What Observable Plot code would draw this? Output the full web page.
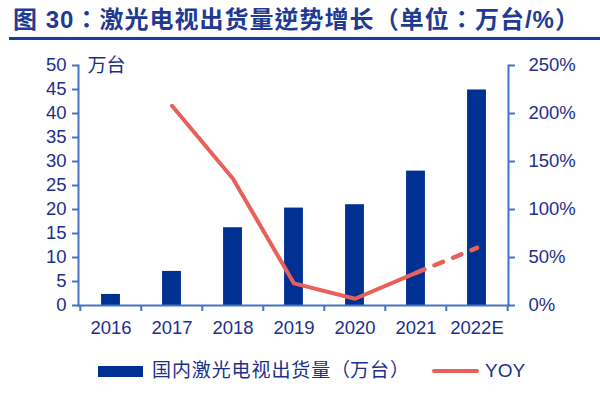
<!DOCTYPE html>
<html>
<head>
<meta charset="utf-8">
<script src="https://cdn.jsdelivr.net/npm/d3@7"></script>
<script src="https://cdn.jsdelivr.net/npm/@observablehq/plot@0.6"></script>
<style>
  body { margin: 0; background: #fff; width: 600px; height: 400px; overflow: hidden; text-spacing-trim: space-all; }
  #title { position: relative; height: 37px; margin-left: 9px; border-bottom: 3px solid #1a3d9c;
    font-family: "Liberation Sans", "Noto Sans CJK TC", sans-serif; font-weight: bold; font-size: 24px;
    color: #1f3a93; line-height: 40px; padding-left: 4px; white-space: nowrap; letter-spacing: 1px; }
  #legend { position: relative; height: 40px; font-family: "Liberation Sans", "Noto Sans CJK SC", sans-serif;
    font-size: 19px; color: #1b2f8a; }
  .sw { position: absolute; }
  .lt { position: absolute; line-height: 20px; white-space: nowrap; }
  .cn { letter-spacing: 0.9px; }
  .p { display: inline-block; width: 1em; text-align: center; }
  #title .p { width: 1.05em; }
</style>
</head>
<body>
<div id="title">图 30<span class="p">：</span>激光电视出货量逆势增长<span class="p">（</span>单位<span class="p">：</span>万台/%<span class="p">）</span></div>
<div id="chart"></div>
<div id="legend">
  <div class="sw" style="left:98px; top:21px; width:45px; height:11px; background:#003092;"></div>
  <div class="lt cn" style="left:152px; top:16px;">国内激光电视出货量<span class="p">（</span>万台<span class="p">）</span></div>
  <div class="sw" style="left:432px; top:24px; width:47px; height:4px; background:#e8605a; border-radius:2px;"></div>
  <div class="lt" style="left:485px; top:16px;">YOY</div>
</div>
<script>
const years = ["2016", "2017", "2018", "2019", "2020", "2021", "2022E"];
const shipments = [2.3, 7.1, 16.2, 20.3, 21.0, 28.0, 44.9];
const yoy = [null, 208, 132, 23, 7, 34, 60];
const solidYears = ["2017", "2018", "2019", "2020", "2021"];
const dashedYears = ["2021", "2022E"];
const leftTicks = [0, 5, 10, 15, 20, 25, 30, 35, 40, 45, 50];
const rightTicks = [0, 50, 100, 150, 200, 250];
const shipMax = 50;
const yoyMax = 250;

const ratio = shipMax / yoyMax;
const data = years.map((y, i) => ({year: y, ship: shipments[i], yoy: yoy[i]}));
const solid = data.filter(d => solidYears.includes(d.year));
const dashed = data.filter(d => dashedYears.includes(d.year));

const W = 600, ML = 78, MR = 92;
const step = (W - ML - MR) / years.length;
const axisBlue = "#4472c4";
const textBlue = "#1b2f8a";

const chart = Plot.plot({
  width: W,
  height: 305,
  marginLeft: ML,
  marginRight: MR,
  marginTop: 25,
  marginBottom: 40,
  style: {fontFamily: "'Liberation Sans', 'Noto Sans CJK SC', sans-serif", fontSize: "18.5px", color: textBlue, background: "white", overflow: "visible"},
  x: {type: "band", domain: years, padding: 0, axis: null},
  y: {domain: [0, shipMax], axis: null},
  marks: [
    Plot.barY(data, {x: "year", y: "ship", fill: "#003092", insetLeft: (step - 19.3) / 2, insetRight: (step - 19.3) / 2}),
    Plot.line(solid, {x: "year", y: d => d.yoy * ratio, stroke: "#e8605a", strokeWidth: 4, strokeLinejoin: "round", strokeLinecap: "round"}),
    Plot.line(dashed, {x: "year", y: d => d.yoy * ratio, stroke: "#e8605a", strokeWidth: 4.5, strokeDasharray: "9,11", strokeLinecap: "round"}),
    Plot.frame({anchor: "left", stroke: axisBlue, strokeWidth: 2}),
    Plot.frame({anchor: "right", stroke: axisBlue, strokeWidth: 2}),
    Plot.frame({anchor: "bottom", stroke: axisBlue, strokeWidth: 2}),
    Plot.ruleX(years, {x: d => d, y1: 0, y2: 0, dx: -step / 2, insetBottom: -6, stroke: axisBlue, strokeWidth: 2}),
    Plot.ruleX(years.slice(-1), {x: d => d, y1: 0, y2: 0, dx: step / 2, insetBottom: -6, stroke: axisBlue, strokeWidth: 2}),
    Plot.axisX({domain: years, tickSize: 0, tickPadding: 15, fill: textBlue, label: null}),
    Plot.axisY({anchor: "left", ticks: leftTicks, tickSize: 6, tickPadding: 6, stroke: axisBlue, strokeWidth: 2, fill: textBlue, label: null}),
    Plot.axisY({anchor: "right", ticks: rightTicks.map(t => t * ratio), tickFormat: t => Math.round(t / ratio) + "%", tickSize: 6, tickPadding: 14, stroke: axisBlue, strokeWidth: 2, fill: textBlue, label: null}),
    Plot.text(["万台"], {frameAnchor: "top-left", dx: 9, textAnchor: "start", lineAnchor: "middle", fill: textBlue, fontSize: 19})
  ]
});
document.getElementById("chart").appendChild(chart);
</script>
</body>
</html>
